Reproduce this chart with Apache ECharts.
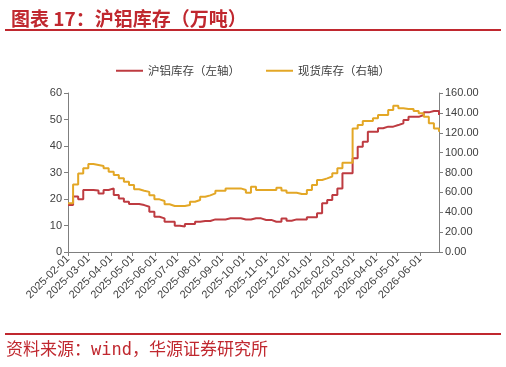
<!DOCTYPE html>
<html>
<head>
<meta charset="utf-8">
<script src="https://cdn.jsdelivr.net/npm/echarts@6/dist/echarts.min.js"></script>
<style>
  html, body { margin: 0; padding: 0; background: #fff; }
  #main { width: 506px; height: 367px; }
</style>
</head>
<body>
<div id="main"></div>
<script>
// 周度数据，起点 2025-02-01
var startDate = '2025-02-01';
var weekCount = 74;

// 沪铝库存（左轴，万吨）
var shfeStock = [
    17.7, 20.9, 19.9, 23.4, 23.4, 23.2, 22.1, 23.4, 24.0, 21.5,
    20.2, 19.0, 18.1, 18.1, 17.7, 17.1, 15.2, 13.3, 12.7, 11.4,
    11.4, 9.9, 9.6, 10.6, 10.6, 11.4, 11.7, 11.7, 12.3, 12.3,
    12.3, 12.7, 12.7, 12.7, 12.3, 12.3, 12.7, 12.7, 12.1, 12.1,
    11.4, 11.4, 12.6, 11.8, 12.3, 12.3, 12.3, 13.1, 13.1, 14.6,
    18.4, 19.6, 21.5, 24.0, 29.7, 29.7, 35.4, 39.7, 41.6, 45.4,
    45.4, 46.7, 47.3, 47.3, 47.9, 48.6, 49.8, 51.0, 51.0, 51.7,
    52.7, 53.2, 53.2, 51.7
];

// 现货库存（右轴，万吨）
var spotStock = [
    49.0, 68.0, 79.0, 84.2, 88.5, 87.5, 86.5, 84.2, 80.8, 77.5,
    74.1, 70.7, 67.4, 63.1, 61.7, 60.5, 57.0, 53.0, 51.3, 48.0,
    46.3, 46.3, 46.3, 47.3, 50.6, 52.3, 55.6, 57.0, 59.0, 61.7,
    61.7, 64.0, 64.0, 64.0, 62.4, 59.7, 65.7, 62.4, 62.4, 62.4,
    62.4, 64.7, 62.0, 59.7, 59.7, 58.3, 58.3, 62.4, 67.4, 72.4,
    74.1, 76.0, 79.2, 84.2, 89.9, 89.9, 124.4, 127.8, 131.8, 131.8,
    134.5, 137.8, 137.8, 142.9, 147.2, 144.6, 144.0, 144.0, 141.8, 139.5,
    136.1, 129.5, 124.4, 121.0
];

var dates = [];
var t0 = new Date(startDate + 'T00:00:00').getTime();
for (var i = 0; i < weekCount; i++) {
    dates.push(t0 + i * 7 * 86400000);
}

function pad(n) { return n < 10 ? '0' + n : '' + n; }
function fmtDate(v) {
    var d = new Date(v);
    return d.getFullYear() + '-' + pad(d.getMonth() + 1) + '-' + pad(d.getDate());
}

var shfeData = [], spotData = [];
for (var i = 0; i < dates.length; i++) {
    shfeData.push([dates[i], shfeStock[i]]);
    spotData.push([dates[i], spotStock[i]]);
}

var red = '#C0282F';
var axisColor = '#7F7F7F';
var labelColor = '#404040';
var monoCjk = '"DejaVu Sans Mono", "Noto Sans CJK SC", monospace';

var option = {
    animation: false,
    backgroundColor: '#fff',
    textStyle: { fontFamily: 'Liberation Sans, Arial, sans-serif' },
    title: {
        text: '图表 17：沪铝库存（万吨）',
        left: 6,
        top: 4,
        textStyle: { color: red, fontSize: 19, fontWeight: 'bold', fontFamily: 'Noto Sans CJK SC' }
    },
    graphic: [
        { type: 'rect', shape: { x: 5, y: 29, width: 496, height: 2 }, style: { fill: red } },
        { type: 'rect', shape: { x: 5, y: 333, width: 496, height: 2 }, style: { fill: red } },
        {
            type: 'text', left: 6, top: 342,
            style: { text: '资料来源：wind，华源证券研究所', fill: red, fontSize: 17, fontFamily: monoCjk }
        }
    ],
    legend: {
        top: 60,
        left: 'center',
        itemWidth: 27,
        itemHeight: 2,
        itemGap: 26,
        icon: 'rect',
        textStyle: { color: labelColor, fontSize: 11.5, fontFamily: 'Noto Sans CJK SC' },
        data: ['沪铝库存（左轴）', '现货库存（右轴）']
    },
    grid: { left: 68, right: 67, top: 93, bottom: 115 },
    xAxis: {
        type: 'time',
        min: new Date('2025-02-01T00:00:00').getTime(),
        max: new Date('2026-06-27T00:00:00').getTime(),
        minInterval: 28 * 86400000,
        maxInterval: 31 * 86400000,
        splitNumber: 17,
        axisLine: { lineStyle: { color: axisColor } },
        axisTick: { show: true, length: 4, lineStyle: { color: axisColor } },
        splitLine: { show: false },
        axisLabel: {
            rotate: 45,
            color: labelColor,
            fontSize: 11,
            margin: 5,
            hideOverlap: false,
            formatter: function (v) { return fmtDate(v); }
        }
    },
    yAxis: [
        {
            type: 'value', min: 0, max: 60, interval: 10,
            axisLine: { show: true, lineStyle: { color: axisColor } },
            axisTick: { show: true, length: 4, lineStyle: { color: axisColor } },
            splitLine: { show: false },
            axisLabel: { color: labelColor, fontSize: 11, margin: 6 }
        },
        {
            type: 'value', min: 0, max: 160, interval: 20,
            axisLine: { show: true, lineStyle: { color: axisColor } },
            axisTick: { show: true, length: 4, lineStyle: { color: axisColor } },
            splitLine: { show: false },
            axisLabel: { color: labelColor, fontSize: 11, margin: 6, formatter: function (v) { return v.toFixed(2); } }
        }
    ],
    series: [
        {
            name: '沪铝库存（左轴）',
            type: 'line',
            yAxisIndex: 0,
            step: 'end',
            showSymbol: false,
            data: shfeData,
            itemStyle: { color: '#BE3B41' },
            lineStyle: { color: '#BE3B41', width: 2 }
        },
        {
            name: '现货库存（右轴）',
            type: 'line',
            yAxisIndex: 1,
            step: 'end',
            showSymbol: false,
            data: spotData,
            itemStyle: { color: '#E3A726' },
            lineStyle: { color: '#E3A726', width: 2 }
        }
    ]
};

var myChart = echarts.init(document.getElementById('main'));
myChart.setOption(option);
</script>
</body>
</html>
